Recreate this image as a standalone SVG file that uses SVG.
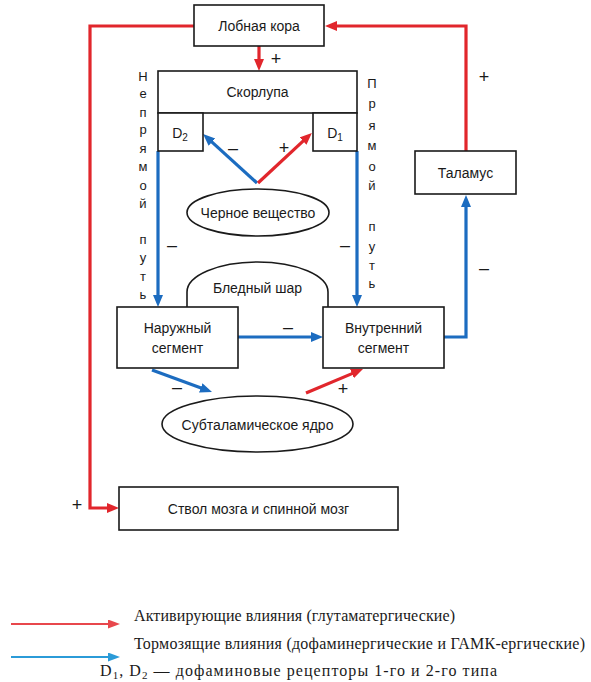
<svg xmlns="http://www.w3.org/2000/svg" width="591" height="682" viewBox="0 0 591 682">
<style>
.box{fill:#fff;stroke:#1a1a1a;stroke-width:1.6}
.t{font-family:"Liberation Sans",Arial,sans-serif;font-size:14px;fill:#1a1a1a;text-anchor:middle}
.v{font-family:"Liberation Sans",Arial,sans-serif;font-size:13px;fill:#1a1a1a;text-anchor:middle}
.s{font-family:"Liberation Sans",Arial,sans-serif;font-size:18px;fill:#1a1a1a;text-anchor:middle}
.lg{font-family:"Liberation Serif","Times New Roman",serif;font-size:16px;fill:#1a1a1a}
.r{fill:none;stroke:#e1262c;stroke-width:3.2;marker-end:url(#ar)}
.b{fill:none;stroke:#1c6cc0;stroke-width:3.2;marker-end:url(#ab)}
.lr{fill:none;stroke:#e8474c;stroke-width:2.2;marker-end:url(#alr)}
.lb{fill:none;stroke:#2b9bd8;stroke-width:2.2;marker-end:url(#alb)}
</style>
<defs>
<marker id="ar" markerUnits="userSpaceOnUse" markerWidth="13" markerHeight="11" refX="4" refY="5" orient="auto"><path d="M0,0 L12,5 L0,10 z" fill="#e1262c"/></marker>
<marker id="ab" markerUnits="userSpaceOnUse" markerWidth="13" markerHeight="11" refX="4" refY="5" orient="auto"><path d="M0,0 L12,5 L0,10 z" fill="#1c6cc0"/></marker>
<marker id="alr" markerUnits="userSpaceOnUse" markerWidth="13" markerHeight="11" refX="4" refY="4.5" orient="auto"><path d="M0,0 L12,4.5 L0,9 z" fill="#e8474c"/></marker>
<marker id="alb" markerUnits="userSpaceOnUse" markerWidth="13" markerHeight="11" refX="4" refY="4.5" orient="auto"><path d="M0,0 L12,4.5 L0,9 z" fill="#2b9bd8"/></marker>
</defs>
<rect width="591" height="682" fill="#fff"/>

<g id="connectors">
<path class="r" d="M194,26 H90 V508 H111"/>
<path class="r" d="M466,151 V26 H333"/>
<path class="r" d="M259,46 V63"/>
<path class="b" d="M257,183 L209,139.4"/>
<path class="r" d="M258,183 L306,138.4"/>
<path class="b" d="M158,151 V299"/>
<path class="b" d="M357,151 V299"/>
<path class="b" d="M238,337 H315"/>
<path class="b" d="M444,337 H466 V203"/>
<path class="b" d="M152,370 L204.5,389.2"/>
<path class="r" d="M306,393 L355.6,372.1"/>
</g>

<g id="signs">
<text class="s" x="276" y="65">+</text>
<text class="s" x="233" y="154">–</text>
<text class="s" x="284" y="154">+</text>
<text class="s" x="484" y="83">+</text>
<text class="s" x="172" y="251">–</text>
<text class="s" x="345" y="251">–</text>
<text class="s" x="484" y="274">–</text>
<text class="s" x="288" y="333">–</text>
<text class="s" x="177" y="393">–</text>
<text class="s" x="343" y="395">+</text>
<text class="s" x="77" y="511">+</text>
</g>

<g id="frontal-cortex">
<rect class="box" x="194" y="5" width="130" height="41"/>
<text class="t" x="259" y="30.5">Лобная кора</text>
</g>

<g id="putamen">
<rect class="box" x="158" y="71" width="199" height="42"/>
<text class="t" x="257.5" y="97">Скорлупа</text>
</g>
<g id="d2">
<rect class="box" x="158" y="113" width="45" height="38"/>
<text class="t" x="180" y="138">D<tspan font-size="10" dy="3">2</tspan></text>
</g>
<g id="d1">
<rect class="box" x="313" y="113" width="44" height="38"/>
<text class="t" x="335" y="138">D<tspan font-size="10" dy="3">1</tspan></text>
</g>

<g id="indirect-label">
<text class="v" x="143" y="81">Н</text>
<text class="v" x="143" y="98">е</text>
<text class="v" x="143" y="117">п</text>
<text class="v" x="143" y="134">р</text>
<text class="v" x="143" y="153">я</text>
<text class="v" x="143" y="171">м</text>
<text class="v" x="143" y="190">о</text>
<text class="v" x="143" y="208">й</text>
<text class="v" x="143" y="244">п</text>
<text class="v" x="143" y="262">у</text>
<text class="v" x="143" y="281">т</text>
<text class="v" x="143" y="299">ь</text>
</g>
<g id="direct-label">
<text class="v" x="372" y="88">П</text>
<text class="v" x="372" y="108">р</text>
<text class="v" x="372" y="130">я</text>
<text class="v" x="372" y="150">м</text>
<text class="v" x="372" y="171">о</text>
<text class="v" x="372" y="190">й</text>
<text class="v" x="372" y="231">п</text>
<text class="v" x="372" y="251">у</text>
<text class="v" x="372" y="270">т</text>
<text class="v" x="372" y="288">ь</text>
</g>

<g id="substantia-nigra">
<ellipse class="box" cx="258" cy="212.5" rx="71" ry="23.5"/>
<text class="t" x="258" y="217.5">Черное вещество</text>
</g>

<g id="thalamus">
<rect class="box" x="415" y="151" width="101" height="43"/>
<text class="t" x="465.5" y="177.5">Таламус</text>
</g>

<g id="globus-pallidus">
<path class="box" d="M187,307 V292 A70.5,30 0 0 1 328,292 V307"/>
<text class="t" x="257.5" y="293">Бледный шар</text>
</g>

<g id="external-segment">
<rect class="box" x="117" y="307" width="121" height="61"/>
<text class="t" x="177.5" y="333">Наружный</text>
<text class="t" x="177.5" y="353">сегмент</text>
</g>

<g id="internal-segment">
<rect class="box" x="323" y="307" width="121" height="61"/>
<text class="t" x="383.5" y="333">Внутренний</text>
<text class="t" x="383.5" y="353">сегмент</text>
</g>

<g id="subthalamic-nucleus">
<ellipse class="box" cx="257.5" cy="424" rx="95.5" ry="28"/>
<text class="t" x="257.5" y="429.5">Субталамическое ядро</text>
</g>

<g id="brainstem">
<rect class="box" x="119" y="487" width="279" height="43"/>
<text class="t" x="258.5" y="513.5">Ствол мозга и спинной мозг</text>
</g>

<g id="legend">
<path class="lr" d="M11,624 H112"/>
<path class="lb" d="M11,657 H112"/>
<text class="lg" x="134" y="621" textLength="321" lengthAdjust="spacing">Активирующие влияния (глутаматергические)</text>
<text class="lg" x="134" y="649" textLength="451" lengthAdjust="spacing">Тормозящие влияния (дофаминергические и ГАМК-ергические)</text>
<text class="lg" x="100" y="676" textLength="397" lengthAdjust="spacing">D<tspan font-size="11" dy="3">1</tspan><tspan dy="-3">, D</tspan><tspan font-size="11" dy="3">2</tspan><tspan dy="-3"> — дофаминовые рецепторы 1-го и 2-го типа</tspan></text>
</g>
</svg>
